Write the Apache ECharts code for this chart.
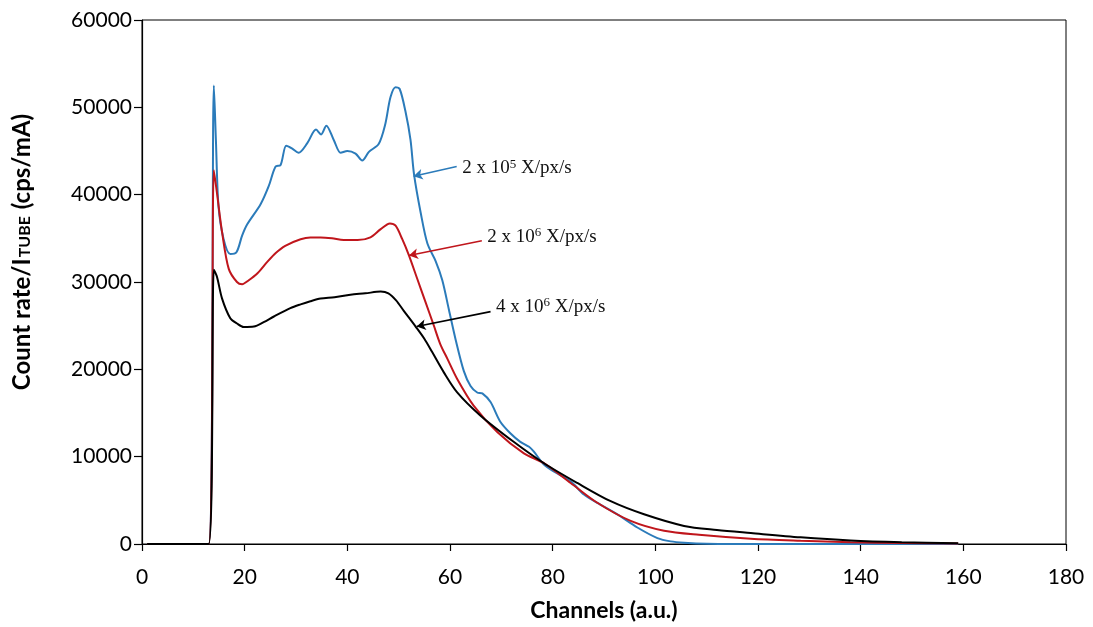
<!DOCTYPE html>
<html>
<head>
<meta charset="utf-8">
<script src="https://cdn.jsdelivr.net/npm/echarts@6/dist/echarts.min.js"></script>
<style>
  html, body { margin: 0; padding: 0; background: #fff; }
  #chart { width: 1093px; height: 627px; }
</style>
</head>
<body>
<div id="chart"></div>
<script>
// Spectra per flux: channel positions and count rate normalised by tube current
const lowFluxChannels = [1, 13, 14, 14.4, 14.9, 15.9, 17.2, 18.4, 19.5, 20.5, 23.1, 24.7, 26.0, 27.0, 28.1, 29.2, 30.5, 32.2, 33.9, 34.9, 35.9, 37.4, 38.7, 40.0, 41.6, 42.9, 44.2, 46.1, 47.4, 48.4, 49.4, 50.2, 51.3, 52.3, 53.0, 54.3, 55.6, 57.2, 58.5, 59.8, 61.1, 62.7, 64.0, 65.3, 66.3, 67.9, 69.8, 71.8, 73.7, 75.4, 76.3, 78.3, 80.2, 83.5, 86.1, 88.7, 92.6, 96.5, 100.4, 103, 105.6, 110, 120, 140, 159];
const lowFluxRate = [0, 0, 52500, 46200, 38700, 34900, 33200, 33400, 35300, 36600, 38900, 41000, 43200, 43400, 45600, 45300, 44800, 45900, 47450, 46900, 47900, 46200, 44800, 45000, 44700, 43900, 44900, 45800, 48100, 51150, 52300, 52100, 49600, 46300, 42300, 37900, 34400, 32400, 30200, 26800, 23400, 19800, 18100, 17350, 17250, 16250, 14000, 12650, 11700, 11130, 10600, 9100, 8300, 7170, 5660, 4720, 3400, 1890, 680, 300, 150, 40, 10, 0, 0];

const midFluxChannels = [1, 13, 14, 14.6, 15.6, 16.9, 18.5, 19.5, 20.8, 22.5, 24.4, 26, 27.9, 30.9, 32.8, 34.8, 37, 39.3, 42, 44.5, 46.5, 48.3, 49.4, 50.7, 52.0, 53.6, 55.2, 56.8, 58.1, 59.5, 61.4, 64.6, 69.2, 74.4, 78.3, 83.5, 88.7, 95.2, 101.7, 108.5, 118.6, 128.3, 138, 148, 159];
const midFluxRate = [0, 0, 42800, 40200, 35700, 31500, 30000, 29750, 30200, 31000, 32300, 33300, 34150, 34900, 35100, 35100, 35000, 34800, 34800, 35100, 36050, 36700, 36450, 34900, 33050, 30400, 27750, 25100, 22900, 21200, 18900, 15850, 12830, 10380, 9250, 6990, 4720, 2640, 1510, 1050, 600, 370, 200, 120, 60];

const highFluxChannels = [1, 13, 14, 14.6, 15.6, 17.2, 18.5, 19.8, 21.8, 23.7, 25.7, 28.9, 30.9, 32.8, 34.8, 37.5, 40.6, 43.5, 46.5, 48, 49.5, 51, 53.3, 55, 56.5, 58.8, 61.4, 65.9, 72.4, 78.3, 84.8, 91.3, 97.8, 105.6, 112, 118.6, 128.3, 138, 148, 159];
const highFluxRate = [0, 0, 31400, 30600, 28100, 25850, 25250, 24850, 24900, 25400, 26050, 27000, 27440, 27800, 28100, 28250, 28550, 28700, 28900, 28700, 27900, 26700, 24900, 23500, 22000, 19650, 17360, 14720, 11700, 9250, 6990, 4900, 3400, 2070, 1600, 1250, 760, 400, 200, 80];

// Axis ticks
const xTicks = [0, 20, 40, 60, 80, 100, 120, 140, 160, 180];
const yTicks = [0, 10000, 20000, 30000, 40000, 50000, 60000];

// Flux labels: mantissa, exponent, arrow tail and head (channel, rate)
const fluxMantissa = ['2', '2', '4'];
const fluxExponent = ['5', '6', '6'];
const arrowTails = [[61.3, 43230], [66.2, 34730], [67.9, 26610]];
const arrowHeads = [[52.9, 42100], [52.0, 33030], [53.5, 24900]];

const colors = ['#2b7bba', '#c0161c', '#000000'];
const labelOffsets = [[0, 2], [0, -4], [0, -5]];

function pairs(xs, ys) {
  return xs.map((x, i) => [x, ys[i]]);
}

function fluxSeries(idx, xs, ys) {
  return {
    type: 'line',
    data: pairs(xs, ys),
    showSymbol: false,
    smooth: 0.3,
    lineStyle: { color: colors[idx], width: 2 },
    itemStyle: { color: colors[idx] },
    z: 2 + idx,
    markLine: {
      silent: true,
      animation: false,
      symbol: ['none', 'arrow'],
      symbolSize: [8, 9],
      lineStyle: { color: colors[idx], width: 1.6, type: 'solid' },
      label: { show: false },
      data: [[{ coord: arrowTails[idx] }, { coord: arrowHeads[idx] }]]
    },
    markPoint: {
      silent: true,
      animation: false,
      symbol: 'circle',
      symbolSize: 1,
      itemStyle: { color: 'rgba(0,0,0,0)' },
      data: [{ coord: arrowTails[idx] }],
      label: {
        show: true,
        position: 'right',
        distance: 5,
        offset: labelOffsets[idx],
        formatter: '{t|' + fluxMantissa[idx] + ' x 10}{s|' + fluxExponent[idx] + '}{t| X/px/s}',
        rich: {
          t: { fontFamily: 'Liberation Serif', fontSize: 19, color: '#111' },
          s: { fontFamily: 'Liberation Serif', fontSize: 13, color: '#111', verticalAlign: 'top', padding: [0, 0, 8, 0] }
        }
      }
    }
  };
}

const chart = echarts.init(document.getElementById('chart'), null, { renderer: 'canvas' });

chart.setOption({
  animation: false,
  backgroundColor: '#fff',
  grid: {
    left: 142, right: 27, top: 20, bottom: 77,
    show: true, borderColor: '#000', borderWidth: 1
  },
  xAxis: {
    type: 'value',
    min: xTicks[0],
    max: xTicks[xTicks.length - 1],
    interval: xTicks[1] - xTicks[0],
    name: 'Channels (a.u.)',
    nameLocation: 'middle',
    nameGap: 55,
    nameTextStyle: { fontFamily: 'Lato', fontWeight: 'bold', fontSize: 23, color: '#000' },
    axisLine: { lineStyle: { color: '#000', width: 1.2 } },
    axisTick: { show: true, length: 7, lineStyle: { color: '#000', width: 1.2 } },
    axisLabel: { fontFamily: 'Lato', fontSize: 21, color: '#000', margin: 23 },
    splitLine: { show: false }
  },
  yAxis: {
    type: 'value',
    min: yTicks[0],
    max: yTicks[yTicks.length - 1],
    interval: yTicks[1] - yTicks[0],
    name: '{a|Count rate/I}{b|TUBE}{a| (cps/mA)}',
    nameLocation: 'middle',
    nameRotate: 90,
    nameGap: 108,
    nameTextStyle: {
      padding: [0, 0, 0, 60],
      rich: {
        a: { fontFamily: 'Lato', fontWeight: 'bold', fontSize: 24, color: '#000' },
        b: { fontFamily: 'Lato', fontWeight: 'bold', fontSize: 16, color: '#000', verticalAlign: 'bottom', padding: [0, 1, 1, 1] }
      }
    },
    axisLine: { show: true, lineStyle: { color: '#000', width: 1.2 } },
    axisTick: { show: true, length: 8, lineStyle: { color: '#000', width: 1.2 } },
    axisLabel: {
      fontFamily: 'Lato', fontSize: 21, color: '#000', margin: 10,
      formatter: (v) => String(v)
    },
    splitLine: { show: false }
  },
  series: [
    fluxSeries(0, lowFluxChannels, lowFluxRate),
    fluxSeries(1, midFluxChannels, midFluxRate),
    fluxSeries(2, highFluxChannels, highFluxRate)
  ]
});
</script>
</body>
</html>
